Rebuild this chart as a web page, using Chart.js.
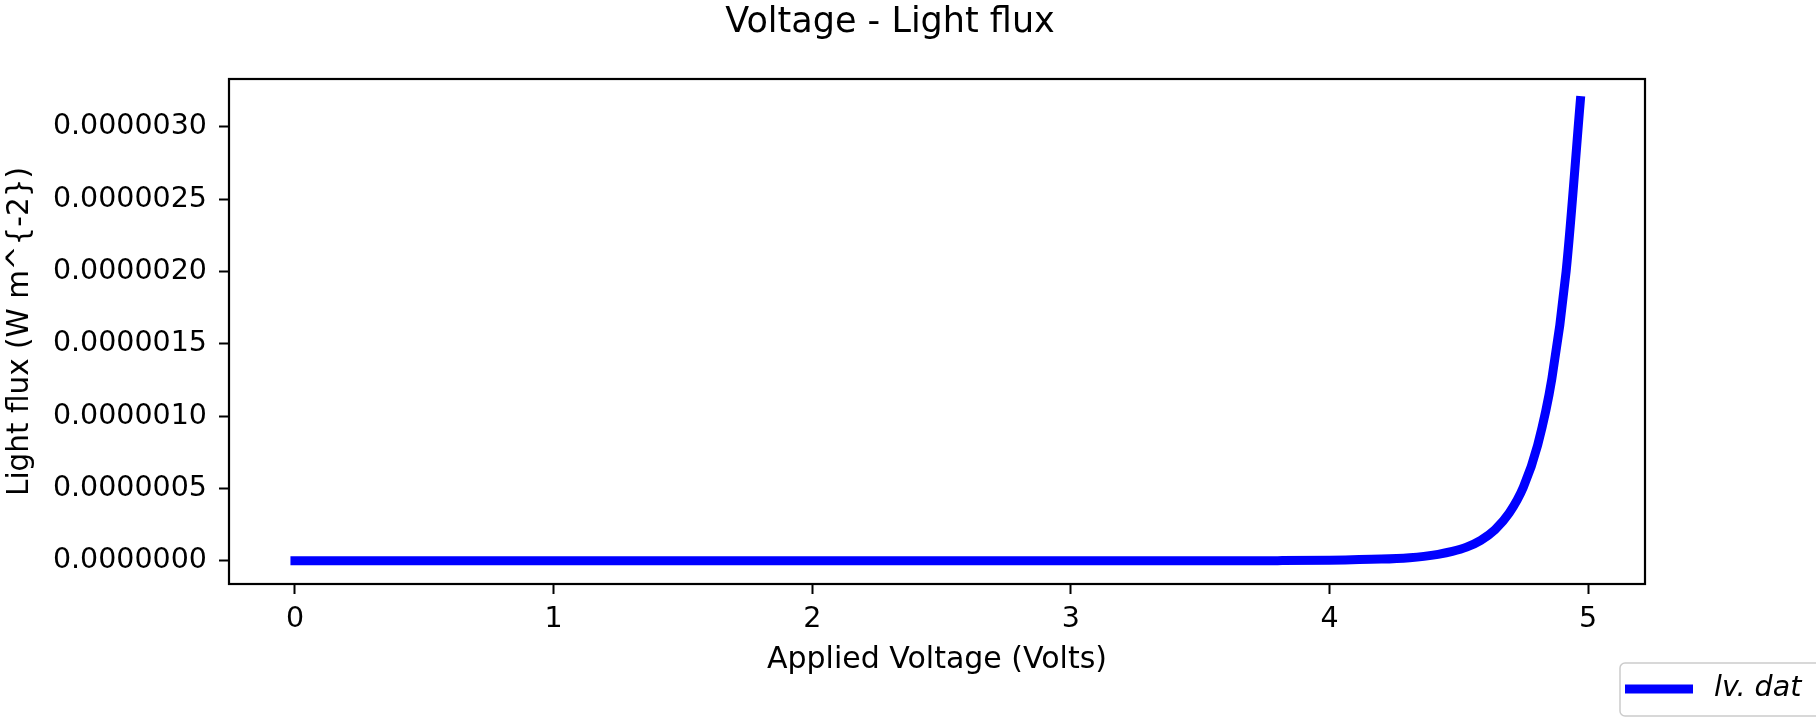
<!DOCTYPE html>
<html>
<head>
<meta charset="utf-8">
<title>Voltage - Light flux</title>
<script src="https://cdn.jsdelivr.net/npm/chart.js@4.4.1/dist/chart.umd.min.js"></script>
<style>
    html, body { margin: 0; padding: 0; background: #ffffff; }
    #chartWrap { width: 1816px; height: 718px; }
</style>
</head>
<body>
<div id="chartWrap"><canvas id="lvChart" width="1816" height="718"></canvas></div>
<script>
// Data (Applied Voltage in Volts, Light flux in W m^-2)
const voltages = [0, 0.5, 1, 1.5, 2, 2.5, 3, 3.5, 3.8, 4.0, 4.2, 4.31, 4.365, 4.42, 4.475, 4.53, 4.585, 4.64, 4.695, 4.75, 4.805, 4.86, 4.915, 4.97];
const lightFlux = [0, 0, 0, 0, 0, 0, 0.00005e-6, 0.0004e-6, 0.0015e-6, 0.004e-6, 0.012e-6, 0.022e-6, 0.031e-6, 0.045e-6, 0.065e-6, 0.095e-6, 0.142e-6, 0.215e-6, 0.33e-6, 0.51e-6, 0.80e-6, 1.26e-6, 2.0e-6, 3.18e-6];

// Tick values
const xTicks = [0, 1, 2, 3, 4, 5];
const yTicks = [0, 0.5e-6, 1.0e-6, 1.5e-6, 2.0e-6, 2.5e-6, 3.0e-6];

const seriesLabel = 'lv. dat';
const chartTitle = 'Voltage - Light flux';
const xTitle = 'Applied Voltage (Volts)';
const yTitle = 'Light flux (W m^{-2})';

const fontFamily = "'DejaVu Sans', sans-serif";

// Box around the plot area, like the matplotlib spines
const frameBox = {
    id: 'frameBox',
    afterDatasetsDraw(chart) {
        const { ctx, chartArea } = chart;
        ctx.save();
        ctx.strokeStyle = '#000000';
        ctx.lineWidth = 2.2;
        ctx.strokeRect(chartArea.left, chartArea.top, chartArea.right - chartArea.left, chartArea.bottom - chartArea.top);
        ctx.restore();
    }
};

// Figure title + legend box in the bottom right corner
const figureText = {
    id: 'figureText',
    afterDraw(chart) {
        const ctx = chart.ctx;
        ctx.save();
        ctx.fillStyle = '#000000';
        ctx.font = '35px ' + fontFamily;
        ctx.textAlign = 'center';
        ctx.textBaseline = 'alphabetic';
        ctx.fillText(chartTitle, 890, 32);

        // legend
        ctx.fillStyle = '#ffffff';
        ctx.strokeStyle = '#cccccc';
        ctx.lineWidth = 1.5;
        ctx.beginPath();
        ctx.roundRect(1620, 663, 220, 53, 5);
        ctx.fill();
        ctx.stroke();

        const ds = chart.data.datasets[0];
        ctx.strokeStyle = ds.borderColor;
        ctx.lineWidth = ds.borderWidth;
        ctx.lineCap = 'butt';
        ctx.beginPath();
        ctx.moveTo(1625, 689);
        ctx.lineTo(1693, 689);
        ctx.stroke();

        ctx.fillStyle = '#000000';
        ctx.font = 'italic 28.5px ' + fontFamily;
        ctx.textAlign = 'left';
        ctx.textBaseline = 'middle';
        ctx.fillText(ds.label, 1714, 689);
        ctx.restore();
    }
};

const ctx = document.getElementById('lvChart').getContext('2d');
const lvChart = new Chart(ctx, {
    type: 'line',
    data: {
        datasets: [{
            label: seriesLabel,
            data: voltages.map((v, i) => ({ x: v, y: lightFlux[i] })),
            borderColor: '#0000ff',
            backgroundColor: '#0000ff',
            borderWidth: 9,
            borderCapStyle: 'square',
            pointRadius: 0,
            fill: false,
            cubicInterpolationMode: 'monotone'
        }]
    },
    options: {
        responsive: false,
        animation: false,
        devicePixelRatio: 1,
        layout: { padding: { top: 79, right: 171, left: 0, bottom: 0 } },
        plugins: {
            legend: { display: false },
            title: { display: false },
            tooltip: { enabled: false }
        },
        scales: {
            x: {
                type: 'linear',
                min: -0.255,
                max: 5.22,
                border: { display: false },
                grid: { drawOnChartArea: false, drawTicks: true, tickLength: 10, tickWidth: 2, tickColor: '#000000' },
                afterBuildTicks: (scale) => { scale.ticks = xTicks.map(v => ({ value: v })); },
                afterFit: (scale) => { scale.height = 134; },
                ticks: {
                    color: '#000000',
                    padding: 8,
                    maxRotation: 0,
                    font: { family: fontFamily, size: 28.5 },
                    callback: (value) => String(value)
                },
                title: {
                    display: true,
                    text: xTitle,
                    color: '#000000',
                    font: { family: fontFamily, size: 30 },
                    padding: { top: 0, bottom: 40 }
                }
            },
            y: {
                type: 'linear',
                min: -0.16e-6,
                max: 3.33e-6,
                border: { display: false },
                grid: { drawOnChartArea: false, drawTicks: true, tickLength: 10, tickWidth: 2, tickColor: '#000000' },
                afterBuildTicks: (scale) => { scale.ticks = yTicks.map(v => ({ value: v })); },
                afterFit: (scale) => { scale.width = 229; },
                ticks: {
                    color: '#000000',
                    padding: 12,
                    font: { family: fontFamily, size: 28.5 },
                    callback: (value) => Number(value).toFixed(7)
                },
                title: {
                    display: true,
                    text: yTitle,
                    color: '#000000',
                    font: { family: fontFamily, size: 29.5 },
                    padding: { top: 3, bottom: 0 }
                }
            }
        }
    },
    plugins: [frameBox, figureText]
});
</script>
</body>
</html>
